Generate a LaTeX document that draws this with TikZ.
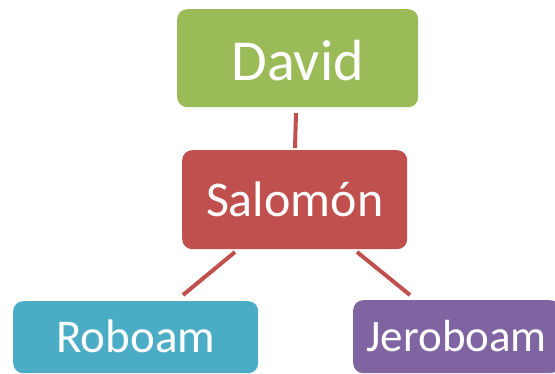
\documentclass[tikz,border=0pt]{standalone}
\usepackage{fontspec}
\setmainfont{Carlito}
\definecolor{cgreen}{HTML}{9BBB59}
\definecolor{cred}{HTML}{C0504D}
\definecolor{cblue}{HTML}{4BACC6}
\definecolor{cpurple}{HTML}{8064A2}
\begin{document}
\begin{tikzpicture}[x=1pt,y=-1pt,
  box/.style={rounded corners=10pt, anchor=north west, inner sep=0pt, text=white, text depth=0pt},
  link/.style={draw=cred, line width=4pt}]
\useasboundingbox (0,0) rectangle (555,374);
\clip (0,0) rectangle (555,374);
\node[box, fill=cgreen, minimum width=241pt, minimum height=98pt, text height=44pt, font=\fontsize{58}{60}\selectfont] (david) at (177,9) {David};
\node[box, fill=cred, minimum width=225pt, minimum height=99pt, text height=34pt, font=\fontsize{50}{52}\selectfont] (salomon) at (182,150) {Salomón};
\node[box, fill=cblue, minimum width=245pt, minimum height=72pt, text height=30pt, font=\fontsize{47}{49}\selectfont] (roboam) at (13,301) {Roboam};
\node[box, fill=cpurple, minimum width=207pt, minimum height=73pt, text height=29pt, font=\fontsize{45}{47}\selectfont] (jeroboam) at (353,300) {Jeroboam};
\coordinate (d1) at (296,113);
\coordinate (s0) at (295,148);
\coordinate (l1) at (235,252);
\coordinate (l2) at (183,295);
\coordinate (r1) at (357,252);
\coordinate (r2) at (410,295);
\draw[link] (d1) -- (s0);
\draw[link] (l1) -- (l2);
\draw[link] (r1) -- (r2);
\end{tikzpicture}
\end{document}
